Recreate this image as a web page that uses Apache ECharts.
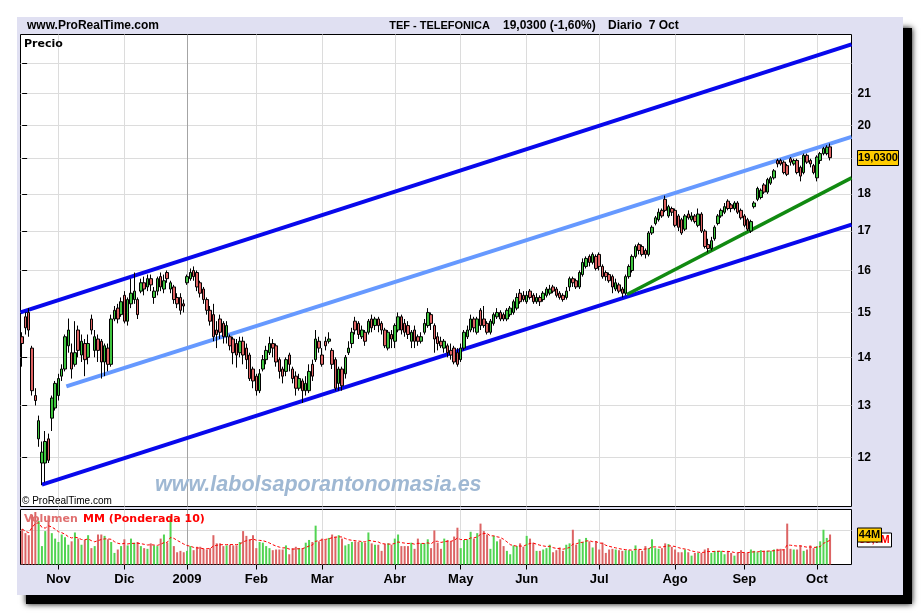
<!DOCTYPE html>
<html>
<head>
<meta charset="utf-8">
<script src="https://cdn.jsdelivr.net/npm/echarts@6/dist/echarts.min.js"></script>
<style>html,body{margin:0;padding:0;background:#fff}#c{width:921px;height:614px}</style>
</head>
<body>
<div id="c"></div>
<script>
// ---------- DATA ----------
const ticker = 'TEF - TELEFONICA';
const periodText = 'Diario  7 Oct';
const firstDay = [2008, 9, 17];           // year, month (0-based), day of first candle
const holidays = ['2008-12-24','2008-12-25','2008-12-26','2008-12-31','2009-01-01','2009-04-10','2009-04-13','2009-05-01'];
const emptySlots = 6;                     // empty trading days after the last candle
const monthNames = ['Ene','Feb','Mar','Abr','May','Jun','Jul','Ago','Sep','Oct','Nov','Dic'];
const priceTicks = [12,13,14,15,16,17,18,19,20,21,22];
const priceLabels = [12,13,14,15,16,17,18,19,20,21];
const priceMin = 11.13, priceMax = 23.0;
const volMax = 80.7;
const volGrid = [50];

// OHLC rows: [open, close, low, high]
const oct08 = [[14.45,14.30,13.80,14.55],[14.90,14.65,14.50,15.00],[15.00,14.60,14.45,15.10],[14.20,13.30,13.20,14.25],[13.20,13.10,13.00,13.35],[12.35,12.70,12.20,12.80],[11.90,12.10,11.50,12.30],[11.90,12.30,11.55,12.50],[12.35,11.95,11.90,12.45],[12.75,13.15,12.50,13.20],[12.95,13.45,12.90,13.50]];
const nov08 = [[13.20,13.55,13.10,13.65],[13.60,13.75,13.50,13.85],[13.75,14.45,13.70,14.50],[14.25,14.60,14.10,14.86],[14.10,13.75,13.55,14.30],[13.85,14.10,13.80,14.80],[14.60,14.15,14.00,14.70],[14.05,14.35,13.90,14.50],[14.30,13.95,13.60,14.40],[14.00,14.30,13.85,14.50],[14.85,14.60,14.50,14.95],[14.15,14.45,14.00,14.60],[14.40,14.15,13.90,14.50],[14.35,13.90,13.55,14.40],[13.90,14.25,13.60,14.30],[14.20,13.85,13.70,14.30],[13.85,14.85,13.80,14.95],[14.85,15.05,14.80,15.15],[15.10,14.85,14.75,15.20],[14.95,15.25,14.90,15.35]];
const dec08 = [[15.40,14.80,14.75,15.50],[14.80,15.30,14.70,15.35],[15.20,15.45,15.10,15.80],[15.30,15.50,15.20,15.95],[15.30,14.95,14.85,15.35],[15.50,15.70,15.45,15.80],[15.70,15.55,15.40,15.85],[15.60,15.80,15.50,15.90],[15.80,15.65,15.50,15.90],[15.35,15.50,15.20,15.60],[15.50,15.80,15.40,15.85],[15.85,15.60,15.50,15.95],[15.55,15.75,15.45,15.90],[15.95,15.80,15.70,16.00],[15.55,15.70,15.45,15.75],[15.60,15.30,15.20,15.65],[15.35,15.20,15.10,15.45],[15.35,15.05,14.95,15.45],[15.20,15.15,15.00,15.30]];
const jan09 = [[15.70,15.85,15.65,15.90],[15.80,15.95,15.75,16.05],[16.00,15.85,15.75,16.10],[15.95,15.60,15.50,16.00],[15.70,15.45,15.35,15.75],[15.55,15.30,15.20,15.60],[15.30,15.05,14.95,15.35],[15.05,14.80,14.70,15.15],[14.95,14.45,14.35,15.20],[14.60,14.50,14.20,14.80],[14.85,14.55,14.40,14.95],[14.75,14.45,14.30,14.80],[14.45,14.70,14.30,14.80],[14.45,14.25,14.15,14.50],[14.40,14.10,13.85,14.45],[14.30,14.05,13.78,14.40],[14.10,14.35,14.00,14.45],[14.35,14.05,13.85,14.45],[14.20,13.95,13.75,14.30],[14.05,13.55,13.50,14.10],[13.75,13.50,13.35,13.80]];
const feb09 = [[13.60,13.30,13.20,13.65],[13.30,13.65,13.25,13.75],[13.75,13.95,13.70,14.05],[13.95,14.15,13.85,14.25],[14.10,14.30,14.05,14.45],[14.30,14.20,14.00,14.40],[14.25,13.90,13.80,14.30],[13.95,13.70,13.55,14.00],[13.75,13.60,13.45,13.80],[13.70,13.95,13.60,14.00],[14.05,13.85,13.70,14.10],[13.75,13.55,13.45,13.80],[13.60,13.35,13.20,13.70],[13.35,13.55,13.30,13.65],[13.50,13.30,13.05,13.55],[13.30,13.45,13.20,13.60],[13.30,13.70,13.25,13.85],[13.85,13.60,13.50,13.95],[13.95,14.40,13.90,14.60],[14.35,14.20,14.10,14.45]];
const mar09 = [[14.05,13.85,13.80,14.20],[14.35,14.25,14.15,14.45],[14.35,14.40,14.30,14.55],[14.15,13.85,13.75,14.20],[13.95,13.35,13.30,14.00],[13.45,13.75,13.30,13.80],[13.75,13.40,13.30,13.80],[13.65,14.00,13.55,14.05],[14.10,14.20,14.05,14.35],[14.30,14.55,14.20,14.65],[14.80,14.60,14.50,14.90],[14.75,14.50,14.40,14.80],[14.45,14.60,14.40,14.70],[14.55,14.35,14.25,14.60],[14.55,14.80,14.50,14.85],[14.85,14.65,14.55,14.95],[14.70,14.85,14.60,14.90],[14.85,14.70,14.55,14.90],[14.75,14.60,14.50,14.80],[14.60,14.25,14.20,14.65],[14.20,14.55,14.15,14.60],[14.50,14.40,14.20,14.60]];
const apr09 = [[14.35,14.70,14.20,14.75],[14.60,14.90,14.55,15.00],[14.90,14.60,14.50,14.95],[14.75,14.55,14.45,14.85],[14.70,14.50,14.40,14.80],[14.35,14.55,14.20,14.60],[14.60,14.35,14.20,14.70],[14.45,14.35,14.25,14.50],[14.35,14.45,14.30,14.55],[14.55,14.75,14.50,14.85],[14.70,15.00,14.65,15.10],[14.95,14.75,14.60,15.00],[14.70,14.40,14.10,14.75],[14.45,14.30,14.15,14.55],[14.35,14.25,14.20,14.45],[14.20,14.35,14.10,14.40],[14.25,14.10,14.00,14.30],[14.15,14.05,13.95,14.30],[14.20,13.90,13.85,14.25],[14.10,13.85,13.80,14.20]];
const may09 = [[13.95,14.20,13.90,14.30],[14.20,14.55,14.15,14.60],[14.45,14.60,14.40,14.70],[14.60,14.85,14.55,14.95],[14.85,14.65,14.55,14.90],[14.55,14.85,14.50,14.90],[15.05,14.70,14.60,15.10],[14.85,14.70,14.65,15.15],[14.75,14.55,14.50,14.80],[14.55,14.80,14.50,14.85],[14.75,14.95,14.70,15.00],[14.90,15.00,14.85,15.10],[15.00,14.85,14.80,15.05],[14.95,14.85,14.80,15.00],[14.85,15.05,14.80,15.10],[14.95,15.10,14.90,15.15],[15.00,15.25,14.95,15.30],[15.10,15.35,15.05,15.45],[15.45,15.25,15.20,15.55],[15.40,15.30,15.25,15.50]];
const jun09 = [[15.25,15.40,15.20,15.50],[15.50,15.35,15.30,15.55],[15.40,15.25,15.20,15.45],[15.25,15.35,15.20,15.45],[15.35,15.25,15.15,15.40],[15.30,15.45,15.25,15.50],[15.40,15.55,15.35,15.60],[15.45,15.55,15.40,15.65],[15.60,15.50,15.45,15.65],[15.55,15.40,15.35,15.60],[15.45,15.35,15.30,15.50],[15.40,15.30,15.25,15.45],[15.35,15.50,15.30,15.60],[15.60,15.80,15.50,15.85],[15.80,15.70,15.60,15.85],[15.75,15.60,15.55,15.80],[15.60,15.95,15.55,16.00],[15.90,16.20,15.85,16.30],[16.10,16.30,16.05,16.35],[16.35,16.20,16.10,16.40],[16.20,16.40,16.15,16.45],[16.35,16.05,16.00,16.40]];
const jul09 = [[16.40,16.10,16.00,16.45],[16.10,15.85,15.80,16.15],[15.95,15.85,15.75,16.00],[15.90,15.75,15.70,15.95],[15.85,15.60,15.45,15.90],[15.55,15.70,15.50,15.80],[15.65,15.50,15.45,15.70],[15.55,15.45,15.35,15.60],[15.45,15.85,15.40,15.90],[15.85,16.10,15.80,16.15],[16.00,16.35,15.95,16.40],[16.35,16.60,16.30,16.65],[16.65,16.50,16.40,16.70],[16.60,16.40,16.35,16.65],[16.50,16.40,16.30,16.55],[16.40,16.95,16.35,17.00],[16.95,17.10,16.90,17.15],[17.20,17.35,17.15,17.40],[17.30,17.50,17.25,17.60],[17.55,17.40,17.35,17.60],[17.85,17.55,17.50,17.95],[17.40,17.65,17.35,17.70],[17.60,17.50,17.40,17.65]];
const aug09 = [[17.55,17.15,17.10,17.60],[17.40,17.10,17.00,17.45],[17.30,16.95,16.90,17.35],[17.05,17.40,17.00,17.45],[17.45,17.35,17.30,17.55],[17.30,17.40,17.25,17.50],[17.40,17.25,17.20,17.45],[17.15,17.45,17.10,17.60],[17.45,17.00,16.95,17.50],[17.00,16.60,16.55,17.05],[16.65,16.55,16.45,16.80],[16.55,16.75,16.50,16.85],[16.80,17.10,16.75,17.15],[17.20,17.40,17.15,17.45],[17.40,17.55,17.35,17.60],[17.50,17.65,17.45,17.75],[17.80,17.60,17.55,17.85],[17.70,17.60,17.50,17.75],[17.60,17.75,17.55,17.80],[17.75,17.50,17.45,17.80],[17.55,17.35,17.30,17.60]];
const sep09 = [[17.40,17.15,17.10,17.45],[17.30,17.05,17.00,17.35],[17.00,17.25,16.95,17.30],[17.65,17.75,17.60,17.80],[17.85,18.15,17.80,18.20],[17.90,18.10,17.85,18.15],[18.25,18.05,18.00,18.30],[18.05,18.40,18.00,18.45],[18.30,18.45,18.25,18.50],[18.45,18.65,18.40,18.70],[18.95,18.85,18.75,19.00],[18.95,18.85,18.80,19.00],[18.90,18.60,18.55,18.95],[18.80,18.55,18.50,18.85],[19.00,18.90,18.80,19.05],[18.85,18.95,18.80,19.00],[18.95,18.60,18.55,19.00],[18.75,18.50,18.35,18.80],[18.60,19.10,18.55,19.15],[19.10,18.90,18.85,19.15],[18.95,18.85,18.75,19.00],[18.80,18.60,18.55,18.85]];
const oct09 = [[18.45,19.05,18.35,19.10],[18.95,19.15,18.85,19.20],[19.15,19.30,19.10,19.35],[19.15,19.34,19.10,19.40],[19.35,19.03,18.95,19.45]];

// Volume, millions of shares
const vOct08 = [52,46,43,73,77,64,27,49,72,46,38];
const vNov08 = [33,44,40,29,34,47,38,29,36,43,24,27,44,44,42,37,33,17,22,27];
const vDec08 = [37,28,38,32,33,27,24,23,31,28,27,38,44,32,71,27,18,20,18];
const vJan09 = [20,27,21,26,26,23,22,24,43,31,31,27,28,29,28,28,33,49,42,37,43];
const vFeb09 = [24,33,32,27,24,21,22,22,22,28,15,24,26,24,24,32,36,33,57,34];
const vMar09 = [38,36,39,44,41,43,38,28,30,33,34,33,33,32,47,31,29,29,20,30,31,29];
const vApr09 = [38,44,27,27,27,32,23,38,31,31,37,24,50,32,23,38,36,34,41,54];
const vMay09 = [24,36,37,48,38,46,60,49,44,23,42,34,37,27,20,15,28,27,31,26];
const vJun09 = [42,38,32,20,20,22,24,29,18,21,25,20,29,31,51,29,37,33,39,34,25,34];
const vJul09 = [22,32,17,22,23,22,21,20,21,21,20,28,22,20,27,24,37,24,23,24,31,30,26];
const vAug09 = [22,18,18,22,18,13,17,17,17,22,24,17,20,20,20,15,20,17,13,17,21];
const vSep09 = [17,17,22,20,18,21,20,20,20,22,23,23,22,60,23,22,22,28,20,22,28,24];
const vOct09 = [27,34,51,39,44];
const wmaPeriod = 10;

// Drawn trend lines: [trading-day index, price]
const upperChannel = [[-0.5, 15.00], [251.5, 22.65]];
const lowerChannel = [[6, 11.51], [251.5, 17.17]];
const middleLine   = [[13.4, 13.39], [251.5, 19.65]];
const supportLine  = [[183.4, 15.42], [251.5, 18.45]];

// ---------- BUILD ----------
const L = Math.log;
const ohlc = [].concat(oct08, nov08, dec08, jan09, feb09, mar09, apr09, may09, jun09, jul09, aug09, sep09, oct09);
const vols = [].concat(vOct08, vNov08, vDec08, vJan09, vFeb09, vMar09, vApr09, vMay09, vJun09, vJul09, vAug09, vSep09, vOct09);
const N = ohlc.length + emptySlots;

const pad = n => (n < 10 ? '0' : '') + n;
const cats = [];
let t = Date.UTC(firstDay[0], firstDay[1], firstDay[2]);
while (cats.length < N) {
  const d = new Date(t);
  const s = d.getUTCFullYear() + '-' + pad(d.getUTCMonth() + 1) + '-' + pad(d.getUTCDate());
  const wd = d.getUTCDay();
  if (wd !== 0 && wd !== 6 && holidays.indexOf(s) < 0) cats.push(s);
  t += 86400000;
}
const monthIdx = [], monthLab = {}, gridColors = [];
for (let i = 1; i < cats.length; i++) {
  const m = cats[i].slice(5, 7), pm = cats[i - 1].slice(5, 7);
  if (m !== pm) {
    monthIdx.push(i);
    const mi = parseInt(m, 10) - 1;
    const yearChange = mi === 0;
    monthLab[i] = yearChange ? cats[i].slice(0, 4) : monthNames[mi];
    gridColors.push(yearChange ? '#a4a4a4' : '#dcdcdc');
  }
}

const candles = ohlc.map(r => r.map(L));
const volData = vols.map((v, i) => ({
  value: v,
  itemStyle: { color: ohlc[i][1] >= ohlc[i][0] ? '#52d452' : '#dc6464' }
}));
const wma = vols.map((v, i) => {
  let s = 0, w = 0;
  for (let k = 0; k < wmaPeriod && i - k >= 0; k++) { s += (wmaPeriod - k) * vols[i - k]; w += (wmaPeriod - k); }
  return +(s / w).toFixed(2);
});
const lnPts = pts => pts.map(p => [p[0], L(p[1])]);

const labelFont = 'Liberation Sans';
const option = {
  animation: false,
  backgroundColor: '#ffffff',
  grid: [
    { left: 20.5, top: 34.5, width: 831, height: 472, show: true, backgroundColor: '#ffffff', borderColor: '#000', borderWidth: 1 },
    { left: 20.5, top: 509.5, width: 831, height: 55, show: true, backgroundColor: '#ffffff', borderColor: '#000', borderWidth: 1 }
  ],
  xAxis: [
    { type: 'category', gridIndex: 0, data: cats, show: false },
    { type: 'value', gridIndex: 0, min: -0.5, max: N - 0.5, position: 'bottom',
      axisLine: { show: false }, axisLabel: { show: false },
      axisTick: { show: false, customValues: monthIdx },
      splitLine: { show: true, lineStyle: { color: gridColors, width: 1 } } },
    { type: 'category', gridIndex: 1, data: cats, show: false },
    { type: 'value', gridIndex: 1, min: -0.5, max: N - 0.5, position: 'bottom',
      axisLine: { show: false },
      axisTick: { show: true, length: 5, customValues: monthIdx, lineStyle: { color: '#000' } },
      axisLabel: { customValues: monthIdx, formatter: v => monthLab[Math.round(v)] || '', color: '#000',
        fontFamily: labelFont, fontWeight: 'bold', fontSize: 13, margin: 8 },
      splitLine: { show: true, lineStyle: { color: gridColors, width: 1 } } }
  ],
  yAxis: [
    { type: 'value', gridIndex: 0, position: 'right', min: L(priceMin), max: L(priceMax),
      axisLine: { show: false },
      axisTick: { show: true, length: 5, customValues: priceTicks.map(L), lineStyle: { color: '#000' } },
      axisLabel: { customValues: priceLabels.map(L), formatter: v => String(Math.round(Math.exp(v))),
        color: '#000', fontFamily: labelFont, fontWeight: 'bold', fontSize: 12, margin: 6 },
      splitLine: { show: true, lineStyle: { color: '#dcdcdc', width: 1 } } },
    { type: 'value', gridIndex: 1, position: 'right', min: 0, max: volMax,
      axisLine: { show: false }, axisLabel: { show: false },
      axisTick: { show: false, customValues: volGrid },
      splitLine: { show: true, lineStyle: { color: '#dcdcdc', width: 1 } } }
  ],
  series: [
    { type: 'line', xAxisIndex: 1, yAxisIndex: 0, data: lnPts(upperChannel), symbol: 'none', silent: true, z: 2,
      lineStyle: { color: '#0808ec', width: 4 } },
    { type: 'line', xAxisIndex: 1, yAxisIndex: 0, data: lnPts(lowerChannel), symbol: 'none', silent: true, z: 2,
      lineStyle: { color: '#0808ec', width: 4 } },
    { type: 'line', xAxisIndex: 1, yAxisIndex: 0, data: lnPts(middleLine), symbol: 'none', silent: true, z: 2,
      lineStyle: { color: '#6699ff', width: 4 } },
    { type: 'line', xAxisIndex: 1, yAxisIndex: 0, data: lnPts(supportLine), symbol: 'none', silent: true, z: 2,
      lineStyle: { color: '#118a11', width: 3.5 } },
    { type: 'candlestick', xAxisIndex: 0, yAxisIndex: 0, data: candles, barWidth: 3, z: 3,
      itemStyle: { color: '#3fc43f', color0: '#de6262', borderColor: '#000', borderColor0: '#000', borderWidth: 1 } },
    { type: 'bar', xAxisIndex: 2, yAxisIndex: 1, data: volData, barWidth: 2, z: 2 },
    { type: 'line', xAxisIndex: 2, yAxisIndex: 1, data: wma, symbol: 'none', z: 3,
      lineStyle: { color: '#ff0000', width: 1, type: [3, 2] } }
  ]
};

const chart = echarts.init(document.getElementById('c'), null, { renderer: 'canvas' });
chart.setOption(option);

// ---------- ANNOTATIONS ----------
const last = ohlc[ohlc.length - 1], prev = ohlc[ohlc.length - 2];
const lastClose = last[1];
const pct = (lastClose / prev[1] - 1) * 100;
const priceTxt = lastClose.toFixed(4).replace('.', ',');
const pctTxt = (pct >= 0 ? '+' : '') + pct.toFixed(2).replace('.', ',') + '%';
const lastVol = vols[vols.length - 1], lastWma = wma[wma.length - 1];

const yP = chart.convertToPixel({ yAxisIndex: 0 }, L(lastClose));
const yV = chart.convertToPixel({ yAxisIndex: 1 }, lastVol);
const yW = chart.convertToPixel({ yAxisIndex: 1 }, lastWma);

const txt = (x, y, text, font, fill, align) => ({
  type: 'text', x: x, y: y, z: 50, silent: true,
  style: { text: text, font: font, fill: fill, textAlign: align || 'left', textVerticalAlign: 'middle' }
});
const bold12 = 'bold 12px "Liberation Sans", Arial, sans-serif';
const bold11 = 'bold 11px "Liberation Sans", Arial, sans-serif';
const small11 = 'bold 11px "DejaVu Sans", Verdana, sans-serif';
const g = [
  { type: 'rect', z: -2, silent: true, shape: { x: 26, y: 28, width: 886, height: 576 },
    style: { fill: '#000', shadowBlur: 6, shadowColor: '#000' } },
  { type: 'rect', z: -1, silent: true, shape: { x: 17, y: 17, width: 886, height: 578 }, style: { fill: '#e0e0f2' } },
  txt(27, 26, 'www.ProRealTime.com', bold12, '#000'),
  txt(490, 26, ticker, bold11, '#000', 'right'),
  txt(503, 26, priceTxt + ' (' + pctTxt + ')', bold12, '#000'),
  txt(608, 26, periodText, bold12, '#000'),
  txt(24, 44, 'Precio', small11, '#000'),
  txt(155, 485, 'www.labolsaporantonomasia.es', 'italic bold 21.5px "Liberation Sans", Arial, sans-serif', '#9fb8d3'),
  txt(22, 501, '\u00a9 ProRealTime.com', '10px "Liberation Sans", Arial, sans-serif', '#000'),
  txt(24, 519, 'Volumen', small11, '#e07070'),
  txt(83, 519, 'MM (Ponderada ' + wmaPeriod + ')', small11, '#ff0000'),
  { type: 'rect', z: 60, silent: true, shape: { x: 857.5, y: Math.round(yP) - 7.5, width: 41, height: 15 },
    style: { fill: '#ffcc00', stroke: '#000', lineWidth: 1 } },
  Object.assign(txt(878, Math.round(yP), priceTxt, bold11, '#000', 'center'), { z: 61 }),
  { type: 'rect', z: 60, silent: true, shape: { x: 857.5, y: Math.round(yW) - 7, width: 34, height: 14 },
    style: { fill: '#fff', stroke: '#000', lineWidth: 1 } },
  Object.assign(txt(874.5, Math.round(yW), lastWma.toFixed(1).replace('.', ',') + 'M', bold11, '#ff0000', 'center'), { z: 61 }),
  { type: 'rect', z: 62, silent: true, shape: { x: 857.5, y: Math.round(yV) - 7, width: 24, height: 14 },
    style: { fill: '#ffcc00', stroke: '#000', lineWidth: 1 } },
  Object.assign(txt(869.5, Math.round(yV), Math.round(lastVol) + 'M', bold11, '#000', 'center'), { z: 63 })
];
chart.setOption({ graphic: g });
</script>
</body>
</html>
